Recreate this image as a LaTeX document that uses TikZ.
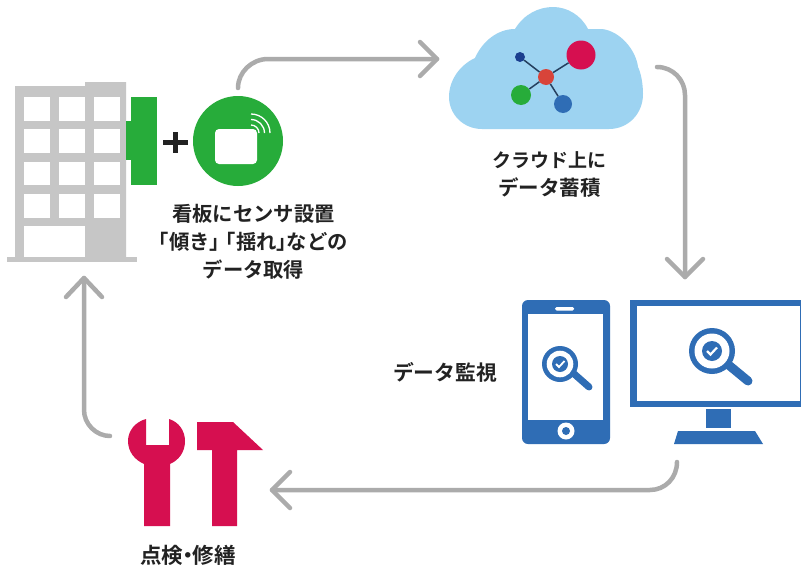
\documentclass[tikz,border=0pt]{standalone}
\usepackage{fontspec}
\setmainfont{Noto Sans CJK JP}[BoldFont={Noto Sans CJK JP Bold}]
\definecolor{arrowgray}{HTML}{ABABAB}
\definecolor{bldg}{HTML}{C6C6C6}
\definecolor{signgreen}{HTML}{27AC3A}
\definecolor{cloudblue}{HTML}{9DD3F1}
\definecolor{devblue}{HTML}{2F6DB5}
\definecolor{toolred}{HTML}{D60F50}
\definecolor{labelk}{HTML}{222222}
\definecolor{hubred}{HTML}{D8443A}
\definecolor{navy}{HTML}{1B3F8F}
\definecolor{linkc}{HTML}{25405F}
\tikzset{
 flow/.style={draw=arrowgray,line width=4.5pt,line cap=round,line join=round},
 lbl/.style={font=\fontsize{20.3}{28}\selectfont\bfseries,text=labelk,align=center,inner sep=0pt},
 dot/.style={circle,inner sep=0pt,minimum size=#1},
 win/.style={fill=white},
 link/.style={draw=linkc,line width=1.5pt}
}
\begin{document}
\begin{tikzpicture}[x=1pt,y=-1pt]
\useasboundingbox (0,0) rectangle (801,565);
\fill[white] (0,0) rectangle (801,565);
% building
\fill[bldg] (15,86) -- (85,86) -- (85,82) -- (126,82) -- (126,257) -- (15,257) -- cycle;
\fill[bldg] (7,257) rectangle (137,262);
\foreach \x/\w in {24/26,59/26,94/26}
 \foreach \y/\h in {97/24,129/24,162/23,194/24}
  \fill[win] (\x,\y) rectangle ++(\w,\h);
\fill[win] (24,226) rectangle (85,257);
% sign
\fill[signgreen] (131,97) rectangle (157,185);
\fill[signgreen] (126,121) rectangle (131,160);
% plus
\fill[labelk] (163,139.5) rectangle (188,144.5);
\fill[labelk] (173,132) rectangle (178,153);
% sensor
\node[dot=90pt,fill=signgreen] (sensor) at (238,141) {};
\fill[white,rounded corners=4pt] (215,129) rectangle (257,164);
\foreach \r in {8,13.5,19}
 \draw[white,line width=1.3pt] (251+\r,133) arc[start angle=0,end angle=-90,radius=\r];
% cloud
\fill[cloudblue] (449,97) .. controls (449,80) and (460,65) .. (475,58)
 .. controls (482,42) and (497,29) .. (515,29)
 .. controls (524,14) and (539,7) .. (553,7)
 .. controls (567,7) and (581,15) .. (588,29)
 -- (602,29) .. controls (620,31) and (636,50) .. (638,67)
 .. controls (641,73) and (643,84) .. (643,94)
 .. controls (643,114) and (628,129) .. (609,129)
 -- (482,129) .. controls (463,129) and (449,114) .. (449,97) -- cycle;
% network
\node[dot=16pt,fill=hubred] (hub) at (546,77) {};
\node[dot=29pt,fill=toolred] (n1) at (581,55) {};
\node[dot=10pt,fill=navy] (n2) at (520,57) {};
\node[dot=20pt,fill=signgreen] (n3) at (521,95) {};
\node[dot=18pt,fill=devblue] (n4) at (563,104) {};
\foreach \n in {n1,n2,n3,n4} \draw[link] (hub) -- (\n);
% tablet
\fill[devblue,rounded corners=6pt] (522,300) rectangle (610,444);
\fill[white] (528,314) rectangle (603,420);
\fill[white,rounded corners=1.5pt] (555,307) rectangle (574,310.5);
\fill[white] (566,431) circle[radius=8.5];
\fill[devblue] (566,431) circle[radius=4];
\draw[devblue,line width=7pt,line cap=round] (572,372) -- (589,387);
\fill[devblue] (560,364) circle[radius=18];
\fill[white] (560,364) circle[radius=13.3];
\fill[devblue] (560,364) circle[radius=8];
\draw[white,line width=1.8pt] (556,364) -- (559,367) -- (564.5,361);
% monitor
\fill[devblue] (630,300) rectangle (801,407);
\fill[white] (637,305.5) rectangle (799.5,401);
\fill[devblue] (706,409) rectangle (731,428);
\fill[devblue] (678,431) -- (755,431) -- (763,444) -- (674,444) -- cycle;
\draw[devblue,line width=9pt,line cap=round] (725,362) -- (748,381);
\fill[devblue] (712,351) circle[radius=23];
\fill[white] (712,351) circle[radius=17.5];
\fill[devblue] (712,351) circle[radius=10];
\draw[white,line width=2.2pt] (707,351) -- (710.5,354.5) -- (717,347.5);
% tools
\fill[toolred] (146,419) .. controls (135,422) and (128,431) .. (128,441)
 .. controls (128,452) and (135,460) .. (144,464) -- (144,526) -- (170,526) -- (170,464)
 .. controls (179,460) and (185,452) .. (185,441)
 .. controls (185,431) and (179,422) .. (169,419) -- (169,445) -- (146,445) -- cycle;
\fill[toolred] (197,422) -- (233,422) -- (263,450) -- (237,450) -- (237,526) -- (212,526)
 -- (212,450) -- (197,450) -- cycle;
% labels
\node[lbl] (t1) at (253.5,242) {看板にセンサ設置\\\mbox{\kern-.5em「傾き」\kern-.7em「揺れ」\kern-.5emなどの}\\データ取得};
\node[lbl] (t2) at (549.5,175) {{\fontsize{19}{27}\selectfont クラウド上に}\\{\fontsize{20.5}{27}\selectfont データ蓄積}};
\node[lbl,font=\fontsize{20.8}{28}\selectfont\bfseries] (t3) at (445,372) {データ監視};
\node[lbl,font=\fontsize{21.5}{28}\selectfont\bfseries] (t4) at (188,555) {点検\kern-.27em・\kern-.27em修繕};
% flow
\coordinate (a1s) at (238,88); \coordinate (a1e) at (437,59);
\coordinate (a2s) at (657,67); \coordinate (a2e) at (685,277);
\coordinate (a3s) at (677,462); \coordinate (a3e) at (272,490);
\coordinate (a4s) at (110,436); \coordinate (a4e) at (84,278);
\draw[flow] (a1s) .. controls (238,72) and (252,59) .. (268,59) -- (a1e);
\draw[flow] (420,42) -- (a1e) -- (420,76);
\draw[flow] (a2s) .. controls (673,67) and (685,80) .. (685,95) -- (a2e);
\draw[flow] (667,259) -- (a2e) -- (703,259);
\draw[flow] (a3s) .. controls (677,478) and (665,490) .. (650,490) -- (a3e);
\draw[flow] (290,472) -- (a3e) -- (290,508);
\draw[flow] (a4s) .. controls (96,436) and (84,424) .. (84,410) -- (a4e);
\draw[flow] (66,297) -- (a4e) -- (102,297);
\end{tikzpicture}
\end{document}
